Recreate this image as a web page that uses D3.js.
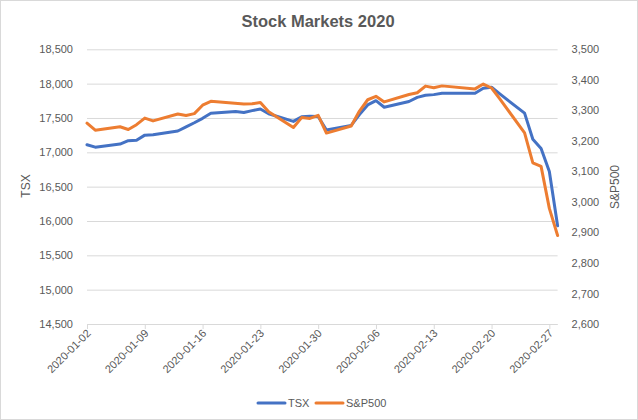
<!DOCTYPE html>
<html>
<head>
<meta charset="utf-8">
<script src="https://cdn.jsdelivr.net/npm/d3@7"></script>
<style>
  html,body{margin:0;padding:0;background:#fff;}
  #chart{width:638px;height:420px;}
  text{font-family:"Liberation Sans",Arial,sans-serif;fill:#595959;}
</style>
</head>
<body>
<div id="chart"></div>
<script>
// trading days (TSX open on Jan 20, US market closed)
const dates = ['2020-01-02','2020-01-03','2020-01-06','2020-01-07','2020-01-08','2020-01-09','2020-01-10',
  '2020-01-13','2020-01-14','2020-01-15','2020-01-16','2020-01-17','2020-01-20','2020-01-21','2020-01-22',
  '2020-01-23','2020-01-24','2020-01-27','2020-01-28','2020-01-29','2020-01-30','2020-01-31','2020-02-03',
  '2020-02-04','2020-02-05','2020-02-06','2020-02-07','2020-02-10','2020-02-11','2020-02-12','2020-02-13',
  '2020-02-14','2020-02-18','2020-02-19','2020-02-20','2020-02-21','2020-02-24','2020-02-25','2020-02-26',
  '2020-02-27','2020-02-28'];
const tsx = [17110,17075,17120,17170,17175,17250,17255,17310,17370,17430,17495,17568,17595,17580,17607,
  17630,17562,17450,17518,17525,17522,17326,17392,17550,17690,17752,17656,17740,17800,17830,17840,
  17860,17860,17932,17947,17850,17570,17190,17055,16720,15930];
const spx = [3257.85,3234.85,3246.28,3237.18,3253.05,3274.70,3265.35,3288.13,3283.15,3289.29,3316.81,3329.62,null,3320.79,3321.75,
  3325.54,3295.47,3243.63,3276.24,3273.40,3283.66,3225.52,3248.92,3297.59,3334.69,3345.78,3327.71,3352.09,3357.75,3379.45,3373.94,
  3380.16,3370.29,3386.15,3373.23,3337.75,3225.89,3128.21,3116.39,2978.76,2890];
const xTicks = ['2020-01-02','2020-01-09','2020-01-16','2020-01-23','2020-01-30','2020-02-06','2020-02-13','2020-02-20','2020-02-27'];
const yLeftTicks = [14500,15000,15500,16000,16500,17000,17500,18000,18500];
const yRightTicks = [2600,2700,2800,2900,3000,3100,3200,3300,3400,3500];
const series = [{name:'TSX',color:'#4472C4',vals:tsx,axis:'L'},{name:'S&P500',color:'#ED7D31',vals:spx,axis:'R'}];

const W=638,H=420,m={t:49.3,r:80.4,b:96,l:87};
const parse=d3.utcParse('%Y-%m-%d');
const svg=d3.select('#chart').append('svg').attr('width',W).attr('height',H);
svg.append('rect').attr('x',0.5).attr('y',0.5).attr('width',W-1).attr('height',H-1).attr('fill','#fff').attr('stroke','#d9d9d9');

const x=d3.scaleUtc().domain([parse('2020-01-02'),parse('2020-02-28')]).range([m.l,W-m.r]);
const yL=d3.scaleLinear().domain([14500,18500]).range([H-m.b,m.t]);
const yR=d3.scaleLinear().domain([2600,3500]).range([H-m.b,m.t]);

// title
svg.append('text').attr('x',318).attr('y',27).attr('text-anchor','middle').attr('font-size',16.5).attr('font-weight','bold').text('Stock Markets 2020');

// grid + left labels
const gl=svg.append('g').attr('transform',`translate(${m.l},0)`)
  .call(d3.axisLeft(yL).tickValues(yLeftTicks).tickSize(-(W-m.r-m.l)).tickPadding(14).tickFormat(d3.format(',')));
gl.select('.domain').remove();
gl.selectAll('.tick line').attr('stroke','#d9d9d9');
gl.selectAll('.tick text').attr('font-size',11).attr('fill','#595959').attr('font-family','Liberation Sans, Arial, sans-serif');

// right labels
const gr=svg.append('g').attr('transform',`translate(${W-m.r},0)`)
  .call(d3.axisRight(yR).tickValues(yRightTicks).tickSize(0).tickPadding(14).tickFormat(d3.format(',')));
gr.select('.domain').remove();
gr.selectAll('.tick text').attr('font-size',11).attr('fill','#595959').attr('font-family','Liberation Sans, Arial, sans-serif');

// x axis
const gx=svg.append('g').attr('transform',`translate(0,${H-m.b})`)
  .call(d3.axisBottom(x).tickValues(xTicks.map(parse)).tickSize(5).tickFormat(d3.utcFormat('%Y-%m-%d')));
gx.select('.domain').attr('stroke','#d9d9d9').attr('d',`M${m.l},0.5H${W-m.r}`);
gx.selectAll('.tick line').attr('stroke','#d9d9d9');
gx.selectAll('.tick text').attr('font-size',11).attr('fill','#595959').attr('font-family','Liberation Sans, Arial, sans-serif')
  .attr('text-anchor','end').attr('dy',null).attr('y',null).attr('transform','translate(4,10) rotate(-45)');

// axis titles
svg.append('text').attr('transform','translate(30,186) rotate(-90)').attr('text-anchor','middle').attr('font-size',12).text('TSX');
svg.append('text').attr('transform','translate(619,187) rotate(-90)').attr('text-anchor','middle').attr('font-size',12).text('S&P500');

// lines
series.forEach(s=>{
  const y=s.axis==='L'?yL:yR;
  const pts=dates.map((d,i)=>({d:parse(d),v:s.vals[i]})).filter(p=>p.v!=null);
  svg.append('path').datum(pts).attr('fill','none').attr('stroke',s.color).attr('stroke-width',3)
    .attr('stroke-linejoin','round').attr('stroke-linecap','round')
    .attr('d',d3.line().x(p=>x(p.d)).y(p=>y(p.v)));
});

// legend
const leg=svg.append('g').attr('transform','translate(258,403)');
[[0,'TSX'],[58,'S&P500']].forEach(([dx,lbl],i)=>{
  const g=leg.append('g').attr('transform',`translate(${dx},0)`);
  g.append('line').attr('x1',0).attr('x2',27).attr('y1',0).attr('y2',0).attr('stroke',series[i].color).attr('stroke-width',3).attr('stroke-linecap','round');
  g.append('text').attr('x',30).attr('y',4).attr('font-size',11).text(lbl);
});
</script>
</body>
</html>
